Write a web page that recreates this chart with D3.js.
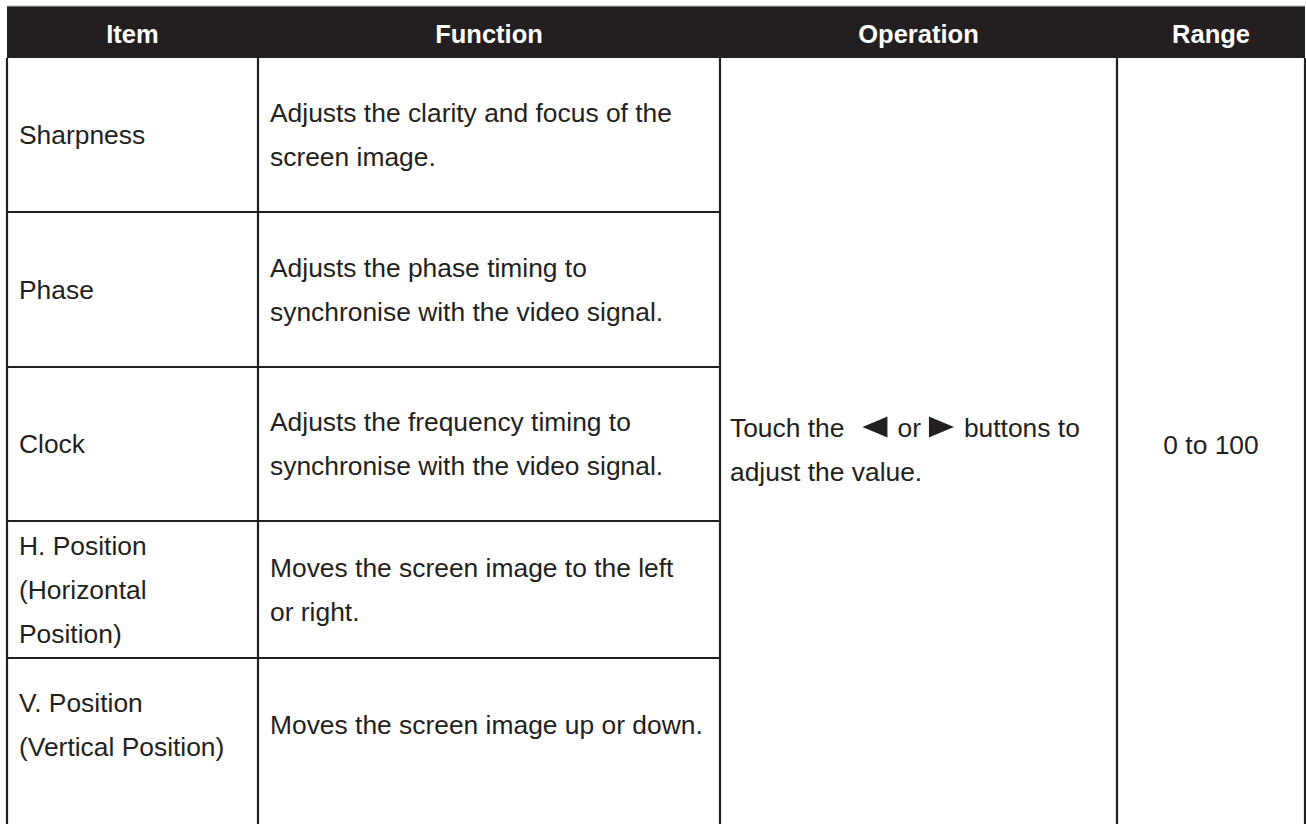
<!DOCTYPE html>
<html>
<head>
<meta charset="utf-8">
<script src="https://cdn.jsdelivr.net/npm/d3@7"></script>
<style>
  html, body { margin: 0; padding: 0; background: #ffffff; }
  svg { display: block; }
</style>
</head>
<body>
<svg id="chart" width="1306" height="824"></svg>
<script>
// ---- data ----
const headers = ["Item", "Function", "Operation", "Range"];
const items = [
  ["Sharpness"],
  ["Phase"],
  ["Clock"],
  ["H. Position", "(Horizontal", "Position)"],
  ["V. Position", "(Vertical Position)"]
];
const functions = [
  ["Adjusts the clarity and focus of the", "screen image."],
  ["Adjusts the phase timing to", "synchronise with the video signal."],
  ["Adjusts the frequency timing to", "synchronise with the video signal."],
  ["Moves the screen image to the left", "or right."],
  ["Moves the screen image up or down."]
];
const operationParts = ["Touch the", "LEFT", "or", "RIGHT", "buttons to"];
const operationLine2 = "adjust the value.";
const rangeText = "0 to 100";

// ---- layout ----
const ink = "#231f20";
const font = "'Liberation Sans', Arial, Helvetica, sans-serif";
const fs = 26.4, hfs = 25.5, lh = 44, pad = 12;
const colX = [7, 258, 720, 1117, 1305];
const headTop = 6, headBot = 58;
const rowB = [58, 212, 367, 521, 658, 792];
const tableBottom = 836;

const svg = d3.select("#chart");

// header
svg.append("rect").attr("x", colX[0]).attr("y", headTop)
  .attr("width", colX[4] - colX[0]).attr("height", headBot - headTop)
  .attr("fill", ink);
svg.append("line").attr("x1", colX[0]).attr("x2", colX[4])
  .attr("y1", headTop).attr("y2", headTop)
  .attr("stroke", "#bbbbbb").attr("stroke-width", 1);

svg.selectAll("text.head").data(headers).join("text")
  .attr("class", "head")
  .attr("x", (d, i) => (colX[i] + colX[i + 1]) / 2)
  .attr("y", 43)
  .attr("text-anchor", "middle")
  .attr("fill", "#ffffff")
  .attr("font-family", font).attr("font-weight", "bold")
  .attr("font-size", hfs)
  .text(d => d);

// grid lines
const g = svg.append("g").attr("stroke", ink).attr("stroke-width", 2.2);
colX.forEach((x, i) => {
  g.append("line").attr("x1", x).attr("x2", x)
    .attr("y1", headBot).attr("y2", tableBottom);
});
rowB.slice(1, -1).forEach(y => {
  g.append("line").attr("x1", colX[0]).attr("x2", colX[2])
    .attr("y1", y).attr("y2", y);
});

function lines(sel, arr, x, center) {
  const n = arr.length;
  arr.forEach((t, k) => {
    sel.append("text")
      .attr("x", x)
      .attr("y", center - (n - 1) * lh / 2 + 9 + k * lh)
      .attr("fill", ink)
      .attr("font-family", font).attr("font-size", fs)
      .text(t);
  });
}

const body = svg.append("g");
items.forEach((arr, i) => {
  const c = (rowB[i] + rowB[i + 1]) / 2;
  lines(body, arr, colX[0] + pad, c);
  lines(body, functions[i], colX[1] + pad, c);
});

// operation cell (merged)
const opCenter = 449.5;
const y1 = opCenter - lh / 2 + 9;
let cx = colX[2] + 10;
const gaps = [18, 10, 8, 10];
operationParts.forEach((p, k) => {
  if (p === "LEFT" || p === "RIGHT") {
    const w = 25, h = 21, top = y1 - 20;
    const path = p === "LEFT"
      ? `M${cx},${top + h / 2} L${cx + w},${top} L${cx + w},${top + h} Z`
      : `M${cx},${top} L${cx + w},${top + h / 2} L${cx},${top + h} Z`;
    body.append("path").attr("d", path).attr("fill", ink);
    cx += w;
  } else {
    const t = body.append("text").attr("x", cx).attr("y", y1)
      .attr("fill", ink).attr("font-family", font).attr("font-size", fs)
      .text(p);
    cx += t.node().getComputedTextLength();
  }
  if (k < gaps.length) cx += gaps[k];
});
body.append("text").attr("x", colX[2] + 10).attr("y", y1 + lh)
  .attr("fill", ink).attr("font-family", font).attr("font-size", fs)
  .text(operationLine2);

// range cell
body.append("text").attr("x", (colX[3] + colX[4]) / 2).attr("y", 454)
  .attr("text-anchor", "middle")
  .attr("fill", ink).attr("font-family", font).attr("font-size", fs)
  .text(rangeText);
</script>
</body>
</html>
